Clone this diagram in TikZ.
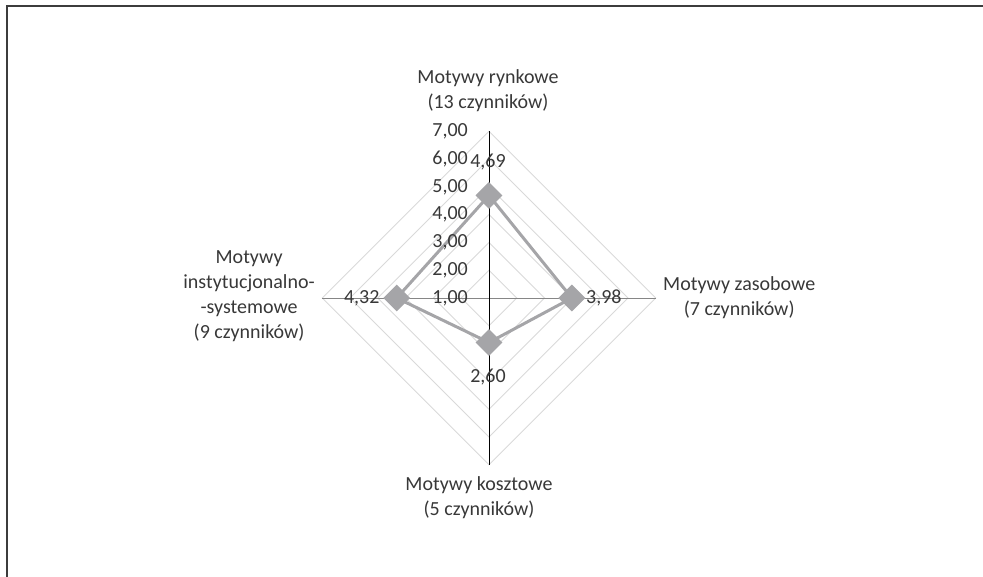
\documentclass[tikz,border=0pt]{standalone}
\usepackage{fontspec}
\setmainfont{Carlito}
\usetikzlibrary{shapes.geometric}
\definecolor{txtgray}{HTML}{383838}
\definecolor{gridgray}{HTML}{D9D9D9}
\definecolor{axisgray}{HTML}{868686}
\definecolor{seriesgray}{HTML}{A5A5A8}
\definecolor{framegray}{HTML}{3C3C3C}

\begin{document}
\begin{tikzpicture}[x=1pt,y=1pt,
    gridline/.style={draw=gridgray,line width=0.9pt},
    series/.style={draw=seriesgray,line width=3pt,line join=miter},
    marker/.style={diamond,fill=seriesgray,inner sep=0pt,minimum size=27pt},
    txt/.style={text=txtgray,font=\fontsize{20}{25}\selectfont,inner sep=0pt},
    cat/.style={txt,align=center}]
  \useasboundingbox (-489,-278) rectangle (494,298);
  \def\unitr{27.8}
  % frame
  \draw[framegray,line width=2pt] (-481.5,-282) -- (-481.5,291.5) -- (498,291.5);
  % grid
  \foreach \k in {1,...,6}
    \draw[gridline] (0,\k*\unitr) -- (\k*\unitr,0) -- (0,-\k*\unitr) -- (-\k*\unitr,0) -- cycle;
  % axes
  \draw[axisgray,line width=1pt] (-6*\unitr,0) -- (6*\unitr,0);
  \draw[black,line width=0.9pt] (0,-6*\unitr) -- (0,6*\unitr);
  % data points (scale starts at 1,00 in the centre)
  \coordinate (pRyn) at (0,3.69*\unitr);
  \coordinate (pZas) at (2.98*\unitr,0);
  \coordinate (pKos) at (0,-1.60*\unitr);
  \coordinate (pIns) at (-3.32*\unitr,0);
  \draw[series] (pRyn) -- (pZas) -- (pKos) -- (pIns) -- cycle;
  \node[marker] (mRyn) at (pRyn) {};
  \node[marker] (mZas) at (pZas) {};
  \node[marker] (mKos) at (pKos) {};
  \node[marker] (mIns) at (pIns) {};
  % axis labels
  \foreach \k in {1,...,7}
    \node[txt,anchor=east] (tick\k) at (-21,{(\k-1)*\unitr}) {\k,00};
  % value labels
  \node[txt] (vRyn) at ([xshift=-1pt,yshift=33pt]mRyn.center) {4,69};
  \node[txt] (vZas) at ([xshift=32pt]mZas.center) {3,98};
  \node[txt] (vKos) at ([xshift=-1pt,yshift=-35pt]mKos.center) {2,60};
  \node[txt] (vIns) at ([xshift=-35pt]mIns.center) {4,32};
  % category labels
  \node[cat] (cRyn) at (-1,207) {Motywy rynkowe\\(13 czynników)};
  \node[cat,anchor=west] (cZas) at (174,0) {Motywy zasobowe\\(7 czynników)};
  \node[cat] (cKos) at (-10,-199.5) {Motywy kosztowe\\(5 czynników)};
  \node[cat,anchor=east] (cIns) at (-174,2) {Motywy\\instytucjonalno-\\-systemowe\\(9 czynników)};
\end{tikzpicture}
\end{document}
